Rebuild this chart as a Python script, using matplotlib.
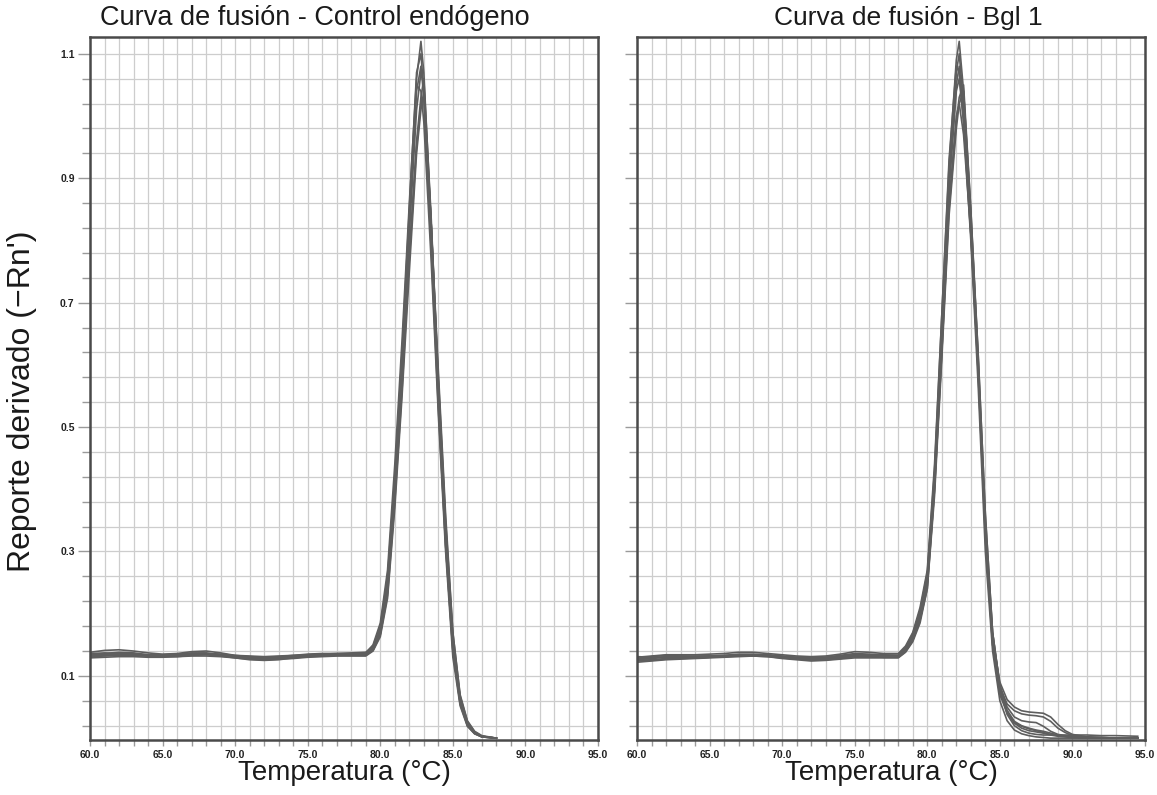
import numpy as np
import matplotlib.pyplot as plt
from matplotlib.ticker import MultipleLocator, FixedLocator, FormatStrFormatter

plt.rcParams['font.family'] = ['Liberation Sans', 'DejaVu Sans']

# melt curves, derivative reporter (-Rn') vs temperature
temp_ctrl = [60, 61, 62, 63, 64, 65, 66, 67, 68, 69, 70, 71, 72, 73, 74, 75, 76, 77, 78, 79,
             79.5, 80, 80.5, 81, 81.5, 82, 82.5, 82.8, 83, 83.5, 84, 84.5, 85, 85.5, 86, 86.5, 87, 88]

ctrl_1 = [.138, .141, .142, .140, .137, .135, .136, .139, .140, .137, .133, .131, .130, .131, .133, .135, .136, .136, .136, .137,
          .150, .185, .27, .44, .64, .86, 1.06, 1.12, 1.07, .83, .56, .33, .15, .060, .022, .008, .002, 0]
ctrl_2 = [.134, .136, .138, .137, .134, .133, .134, .137, .137, .134, .131, .129, .128, .129, .131, .133, .134, .134, .134, .135,
          .146, .176, .25, .41, .60, .82, 1.04, 1.08, 1.03, .79, .53, .31, .14, .055, .020, .007, .002, 0]
ctrl_3 = [.131, .132, .133, .133, .132, .131, .131, .133, .134, .132, .129, .126, .125, .126, .129, .131, .132, .133, .133, .133,
          .142, .168, .235, .39, .57, .78, .96, 1.03, 1.06, .84, .57, .34, .16, .064, .025, .009, .003, 0]
ctrl_4 = [.136, .137, .136, .135, .134, .134, .135, .136, .136, .135, .133, .132, .131, .132, .133, .134, .135, .136, .137, .138,
          .148, .180, .26, .42, .62, .85, 1.07, 1.10, 1.04, .80, .54, .31, .14, .056, .021, .008, .002, 0]
ctrl_5 = [.129, .130, .131, .131, .130, .130, .131, .132, .132, .131, .129, .127, .126, .127, .128, .130, .131, .132, .132, .132,
          .140, .163, .225, .37, .55, .75, .94, 1.01, 1.04, .83, .58, .35, .17, .068, .027, .010, .003, 0]
ctrl_6 = [.133, .135, .137, .136, .133, .132, .133, .135, .136, .134, .132, .130, .129, .130, .132, .134, .135, .135, .135, .136,
          .145, .174, .245, .40, .59, .81, 1.01, 1.07, 1.05, .83, .57, .34, .16, .064, .025, .009, .003, 0]
ctrl_7 = [.135, .134, .133, .133, .132, .132, .133, .135, .135, .134, .132, .130, .128, .129, .131, .133, .134, .134, .134, .134,
          .143, .172, .25, .41, .61, .84, 1.05, 1.04, .99, .77, .52, .30, .13, .052, .019, .007, .002, 0]
ctrl_8 = [.132, .133, .135, .135, .133, .132, .132, .134, .135, .133, .130, .128, .127, .128, .130, .132, .133, .133, .134, .134,
          .141, .166, .23, .38, .56, .77, .95, 1.02, 1.03, .83, .59, .36, .17, .070, .028, .011, .004, 0]

temp_bgl = [60, 61, 62, 63, 64, 65, 66, 67, 68, 69, 70, 71, 72, 73, 74, 75, 76, 77,
            78, 78.5, 79, 79.5, 80, 80.5, 81, 81.5, 82, 82.2, 82.5, 83, 83.5, 84, 84.5,
            85, 85.5, 86, 86.5, 87, 87.5, 88, 88.5, 89, 89.5, 90, 91, 92, 93, 94.5]

bgl_1 = [.130, .132, .134, .134, .134, .135, .136, .138, .138, .136, .134, .132, .131, .132, .135, .139, .138, .136,
         .136, .148, .17, .21, .27, .44, .68, .92, 1.09, 1.12, 1.04, .85, .61, .34, .16,
         .090, .062, .050, .044, .042, .041, .040, .034, .022, .012, .006, .002, .001, 0, 0]
bgl_2 = [.126, .128, .130, .131, .131, .132, .133, .135, .135, .134, .132, .130, .129, .130, .133, .136, .135, .134,
         .133, .144, .165, .20, .26, .42, .66, .90, 1.07, 1.10, 1.02, .83, .60, .33, .15,
         .082, .055, .044, .039, .037, .036, .034, .027, .016, .009, .004, .001, 0, 0, 0]
bgl_3 = [.122, .124, .126, .127, .128, .129, .130, .131, .132, .131, .129, .127, .126, .127, .129, .131, .131, .130,
         .130, .140, .158, .19, .245, .40, .62, .85, .99, 1.03, 1.05, .85, .62, .36, .17,
         .085, .050, .034, .028, .026, .025, .019, .011, .006, .004, .003, .002, .001, 0, 0]
bgl_4 = [.128, .131, .133, .132, .131, .131, .132, .133, .134, .133, .131, .129, .128, .128, .130, .133, .133, .132,
         .132, .143, .163, .20, .255, .42, .65, .89, 1.05, 1.08, 1.01, .82, .59, .32, .15,
         .070, .040, .025, .019, .015, .012, .009, .006, .004, .003, .002, .001, 0, 0, 0]
bgl_5 = [.124, .125, .127, .128, .129, .130, .131, .132, .132, .131, .128, .126, .124, .125, .127, .129, .129, .129,
         .129, .138, .155, .185, .24, .39, .61, .84, .98, 1.02, 1.04, .84, .62, .36, .17,
         .080, .038, .020, .012, .008, .006, .005, .005, .005, .005, .005, .005, .004, .004, .003]
bgl_6 = [.131, .130, .130, .130, .131, .132, .133, .134, .134, .133, .131, .130, .129, .130, .132, .134, .134, .133,
         .133, .145, .168, .205, .265, .43, .68, .93, 1.08, 1.07, .99, .80, .57, .30, .14,
         .060, .028, .013, .007, .004, .002, .001, 0, 0, 0, 0, 0, 0, 0, 0]
bgl_7 = [.127, .129, .131, .132, .132, .132, .132, .133, .133, .132, .130, .128, .127, .128, .131, .134, .134, .133,
         .133, .142, .162, .195, .25, .41, .64, .88, 1.04, 1.06, .99, .81, .59, .33, .16,
         .075, .042, .024, .016, .012, .010, .008, .005, .003, .002, .001, 0, 0, 0, 0]
bgl_8 = [.125, .126, .128, .129, .129, .130, .131, .133, .134, .133, .130, .128, .126, .126, .128, .131, .131, .130,
         .130, .139, .157, .19, .24, .40, .62, .86, 1.00, 1.02, .97, .81, .60, .34, .17,
         .085, .045, .027, .020, .016, .013, .011, .008, .005, .003, .002, .001, .001, 0, 0]

ctrl_curves = [ctrl_1, ctrl_2, ctrl_3, ctrl_4, ctrl_5, ctrl_6, ctrl_7, ctrl_8]
bgl_curves = [bgl_1, bgl_2, bgl_3, bgl_4, bgl_5, bgl_6, bgl_7, bgl_8]

y_labels = [0.1, 0.3, 0.5, 0.7, 0.9, 1.1]
x_labels = [60, 65, 70, 75, 80, 85, 90, 95]


def style_axes(ax, show_ylabels):
    ax.set_xlim(60, 95)
    ax.set_ylim(-0.003, 1.127)
    ax.xaxis.set_major_locator(FixedLocator(x_labels))
    ax.xaxis.set_minor_locator(MultipleLocator(1))
    ax.xaxis.set_major_formatter(FormatStrFormatter('%.1f'))
    ax.yaxis.set_major_locator(FixedLocator(y_labels))
    ax.yaxis.set_minor_locator(FixedLocator(np.arange(0.02, 1.12, 0.04)))
    ax.yaxis.set_major_formatter(FormatStrFormatter('%.1f'))
    ax.grid(which='both', color='#cdcdcd', lw=0.9)
    ax.set_axisbelow(True)
    for s in ax.spines.values():
        s.set_color('#4a4a4a')
        s.set_linewidth(1.8)
    ax.tick_params(which='both', color='#9a9a9a', labelcolor='#222222', labelsize=7.5, width=1)
    ax.tick_params(axis='y', which='major', length=9, pad=2)
    ax.tick_params(axis='y', which='minor', length=6)
    ax.tick_params(axis='x', which='both', length=4, pad=3)
    ax.tick_params(labelleft=show_ylabels)
    for lbl in ax.get_xticklabels() + ax.get_yticklabels():
        lbl.set_fontweight('bold')
    ax.set_xlabel('Temperatura (°C)', fontsize=20, color='#1a1a1a', labelpad=0)


fig = plt.figure(figsize=(11.57, 7.95), dpi=100)
W, H = 1157, 795
ax1 = fig.add_axes([90 / W, 55 / H, 508 / W, 703 / H])
ax2 = fig.add_axes([637 / W, 55 / H, 508 / W, 703 / H])

for y in ctrl_curves:
    ax1.plot(temp_ctrl, y, color='#5e5e5e', lw=1.2)
for y in bgl_curves:
    ax2.plot(temp_bgl, y, color='#5e5e5e', lw=1.2)

style_axes(ax1, True)
style_axes(ax2, False)

fig.text(315 / W, 1 - 18 / H, 'Curva de fusión - Control endógeno', ha='center', va='center',
         fontsize=19.5, color='#1a1a1a')
fig.text(908 / W, 1 - 18 / H, 'Curva de fusión - Bgl 1', ha='center', va='center',
         fontsize=19, color='#1a1a1a')
fig.text(22 / W, 1 - 401 / H, "Reporte derivado (−Rn')", ha='center', va='center',
         rotation=90, fontsize=23, color='#1a1a1a')

fig.savefig('out.png', dpi=100)
